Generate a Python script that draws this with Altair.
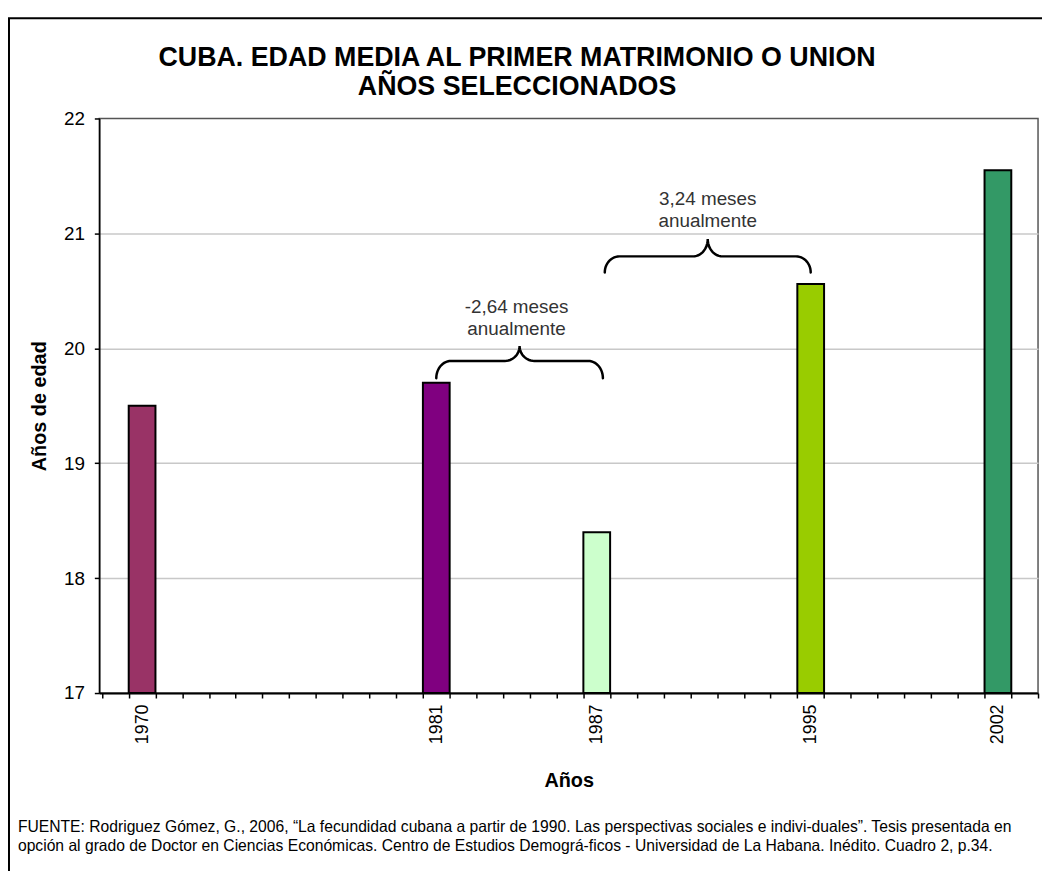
import altair as alt
import pandas as pd
import numpy as np

# ---- data ----
years = [1970, 1981, 1987, 1995, 2002]
year_labels = ["1970", "1981", "1987", "1995", "2002"]
edad = [19.5, 19.7, 18.4, 20.56, 21.55]
colores = ["#993366", "#800080", "#CCFFCC", "#99CC00", "#339966"]

y_domain = [17, 22]
y_ticks = [17, 18, 19, 20, 21, 22]
x_domain = [1968.4, 2003.5]
x_minor_ticks = [1968.5 + i for i in range(36)]

title_lines = ["CUBA. EDAD MEDIA AL PRIMER MATRIMONIO O UNION", "AÑOS SELECCIONADOS"]
y_title = "Años de edad"
x_title = "Años"

ann_text = ["-2,64 meses\nanualmente", "3,24 meses\nanualmente"]
ann_x = [1984.0, 1991.15]
ann_y = [20.31, 21.25]

brace_x1 = [1981.0, 1987.3]
brace_x2 = [1987.23, 1995.0]
brace_end = [19.74, 20.66]
brace_mid = [19.89, 20.80]
brace_tip = [20.02, 20.95]

fuente = [
    "FUENTE: Rodriguez Gómez, G., 2006, “La fecundidad cubana a partir de 1990. Las perspectivas sociales e indivi-duales”. Tesis presentada en",
    "opción al grado de Doctor en Ciencias Económicas. Centro de Estudios Demográ-ficos - Universidad de La Habana. Inédito. Cuadro 2, p.34.",
]

FONT = "Liberation Sans"
W, H = 946, 579

# ---- tables ----
df = pd.DataFrame({"year": years, "edad": edad, "label": year_labels})


def brace_points(x1, x2, y0, y1, y2, rx=0.55, n=14):
    xm = (x1 + x2) / 2
    t = np.linspace(0, np.pi / 2, n)
    s1x = x1 + rx - rx * np.cos(t)
    s1y = y0 + (y1 - y0) * np.sin(t)
    s2x = xm - rx + rx * np.sin(t)
    s2y = y2 - (y2 - y1) * np.cos(t)
    xs = np.concatenate([s1x, s2x, (2 * xm - s2x)[::-1], (2 * xm - s1x)[::-1]])
    ys = np.concatenate([s1y, s2y, s2y[::-1], s1y[::-1]])
    return xs, ys


rows = []
for i in range(len(brace_x1)):
    xs, ys = brace_points(brace_x1[i], brace_x2[i], brace_end[i], brace_mid[i], brace_tip[i])
    for k, (bx, by) in enumerate(zip(xs, ys)):
        rows.append({"id": i, "ord": k, "bx": bx, "by": by})
braces_df = pd.DataFrame(rows)
ann_df = pd.DataFrame({"ax": ann_x, "ay": ann_y, "t": ann_text})

xscale = alt.Scale(domain=x_domain, nice=False, zero=False)
yscale = alt.Scale(domain=y_domain, nice=False, zero=False)

frame = alt.Chart(pd.DataFrame({"k": [0]})).mark_rect(
    fillOpacity=0, stroke="black", strokeWidth=2
).encode(
    x=alt.value(-91), x2=alt.value(W + 200), y=alt.value(-101), y2=alt.value(H + 300)
)

title = alt.Chart(pd.DataFrame({"t": ["\n".join(title_lines)]})).mark_text(
    font=FONT, fontSize=27, fontWeight="bold", lineHeight=29, baseline="alphabetic",
    align="center", lineBreak="\n", color="black"
).encode(x=alt.value(W / 2 - 52), y=alt.value(-53), text="t:N")

bars = alt.Chart(df).transform_calculate(
    x0="datum.year - 0.5", x1="datum.year + 0.5", base="17"
).mark_bar(stroke="black", strokeWidth=2).encode(
    x=alt.X("x0:Q", scale=xscale, axis=alt.Axis(
        orient="bottom", values=x_minor_ticks, labels=False, ticks=True, tickSize=5,
        tickColor="black", tickWidth=1.5, domain=True, domainColor="black",
        domainWidth=2, grid=False, title=None)),
    x2="x1:Q",
    y=alt.Y("edad:Q", scale=yscale, axis=alt.Axis(
        orient="left", values=y_ticks, format="d", title=y_title, labelFontSize=19,
        labelColor="black", labelPadding=10, tickSize=5, tickColor="black", tickWidth=1.5,
        domainColor="black", domainWidth=1.5, grid=True, gridColor="#c8c8c8",
        gridWidth=1.5,
        gridOpacity=alt.condition("datum.value == 22", alt.value(0), alt.value(1)),
        titleFontSize=20, titleFontWeight="bold", titlePadding=14, titleColor="black")),
    y2="base:Q",
    color=alt.Color("label:N", scale=alt.Scale(domain=year_labels, range=colores), legend=None),
)

year_axis = alt.Chart(df).mark_point(opacity=0).encode(
    x=alt.X("year:Q", scale=xscale, axis=alt.Axis(
        orient="bottom", values=years, format="d", labelAngle=270, ticks=False,
        domain=False, grid=False, title=x_title, labelFontSize=18, labelColor="black",
        labelPadding=11, titleFontSize=20, titleFontWeight="bold", titleColor="black",
        titlePadding=27)),
    y=alt.Y("edad:Q", scale=yscale, axis=None),
)

braces = alt.Chart(braces_df).mark_line(color="black", strokeWidth=2.5, strokeCap="round").encode(
    x=alt.X("bx:Q", scale=xscale, axis=None),
    y=alt.Y("by:Q", scale=yscale, axis=None),
    detail="id:N",
    order="ord:Q",
)

ann = alt.Chart(ann_df).mark_text(
    font=FONT, fontSize=19, lineHeight=23, baseline="alphabetic", align="center",
    lineBreak="\n", color="#333333"
).encode(
    x=alt.X("ax:Q", scale=xscale, axis=None),
    y=alt.Y("ay:Q", scale=yscale, axis=None),
    text="t:N",
)

foot = alt.Chart(pd.DataFrame({"t": ["\n".join(fuente)]})).mark_text(
    font=FONT, fontSize=15.8, lineHeight=19, baseline="alphabetic", align="left",
    lineBreak="\n", color="black"
).encode(x=alt.value(-82), y=alt.value(719), text="t:N")

chart = alt.layer(frame, title, bars, year_axis, braces, ann, foot).resolve_axis(
    x="independent", y="independent"
).properties(
    width=W,
    height=H,
    autosize=alt.AutoSizeParams(type="none"),
    padding={"left": 92, "top": 108, "right": 4, "bottom": 176},
).configure_view(
    stroke="#555555", strokeWidth=1.5
).configure_axis(
    labelFont=FONT, titleFont=FONT
)

chart.save("out.html", embed_options={"renderer": "svg", "actions": False})
